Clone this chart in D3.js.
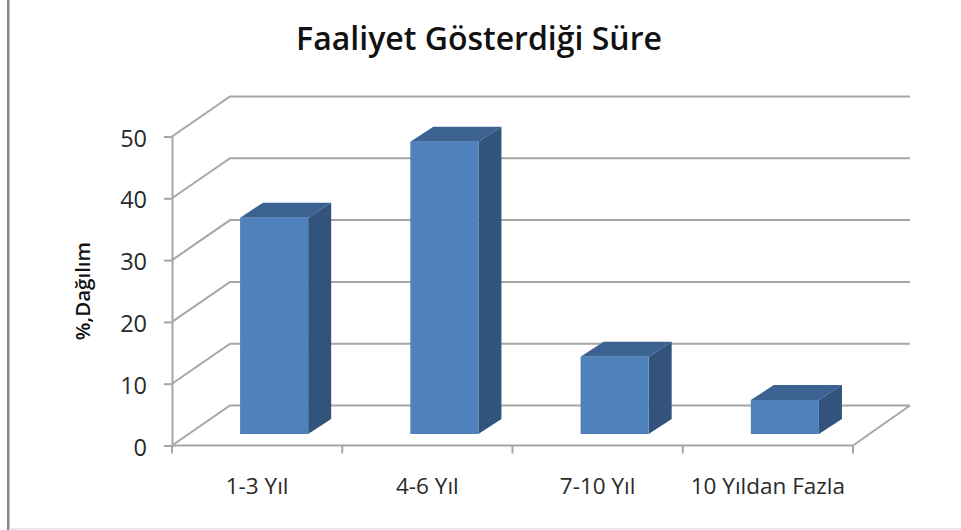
<!DOCTYPE html>
<html><head><meta charset="utf-8">
<script src="https://cdnjs.cloudflare.com/ajax/libs/d3/7.8.5/d3.min.js"></script>
<style>html,body{margin:0;padding:0;background:#fff}svg{display:block}text{font-family:"Open Sans",sans-serif;fill:#2a2a2a}</style>
</head><body><svg id="c" width="961" height="530"></svg>
<script>
const categories = ["1-3 Yıl","4-6 Yıl","7-10 Yıl","10 Yıldan Fazla"];
const values = [35, 47.3, 12.5, 5.5];
const yTicks = [0,10,20,30,40,50];
const titleText = "Faaliyet Gösterdiği Süre";
const yTitle = "%,Dağılım";

const svg = d3.select("#c");
const x = d3.scaleBand().domain(categories).range([172,853]).paddingInner(0.6).paddingOuter(0.3);
const y = d3.scaleLinear().domain([0,50]).range([445.5,136.5]);
const wallDx = 58, wallDy = -40;
const barDx = 23, barDy = -15, insetX = 17, insetY = -11.5;
const grid = "#a6a6a6";

svg.append("rect").attr("x",7).attr("y",0).attr("width",2.5).attr("height",530).attr("fill","#868686");
svg.append("rect").attr("x",9).attr("y",528).attr("width",952).attr("height",1.5).attr("fill","#e4e4e4");

const L = x.range()[0], R = x.range()[1];
const gridG = svg.append("g").attr("fill","none").attr("stroke",grid).attr("stroke-width",2);
gridG.selectAll("path").data(yTicks).join("path")
  .attr("d", d => `M${L},${y(d)}L${L+wallDx},${y(d)+wallDy}L${R+wallDx-1},${y(d)+wallDy}`);
gridG.append("path").attr("d",`M${R},${y(0)}L${R+wallDx-1},${y(0)+wallDy}`);

const yAxis = d3.axisLeft(y).tickValues(yTicks).tickSize(8).tickPadding(17).tickFormat(d3.format("d"));
const ya = svg.append("g").attr("transform",`translate(${L},0)`).call(yAxis);
ya.select(".domain").attr("stroke",grid).attr("stroke-width",2);
ya.selectAll("line").attr("stroke",grid).attr("stroke-width",2);
ya.selectAll("text").attr("font-size",23.5).style("fill","#2a2a2a").attr("dy","0.32em").attr("transform","translate(0,2)");

const bandStep = x.step();
const xBase = svg.append("g");
xBase.append("line").attr("x1",L).attr("x2",R).attr("y1",y(0)).attr("y2",y(0)).attr("stroke",grid).attr("stroke-width",2);
xBase.selectAll(".t").data(d3.range(categories.length+1)).join("line").attr("class","t")
  .attr("x1",i=>L+i*bandStep).attr("x2",i=>L+i*bandStep).attr("y1",y(0)).attr("y2",y(0)+8)
  .attr("stroke",grid).attr("stroke-width",2);
xBase.selectAll("text").data(categories).join("text")
  .attr("x",d=>x(d)+x.bandwidth()/2).attr("y",494)
  .attr("text-anchor","middle").attr("font-size",22.5).text(d=>d);

const bars = svg.append("g").selectAll("g").data(categories.map((c,i)=>({c,v:values[i]}))).join("g");
const bx = d => x(d.c)+insetX, bw = x.bandwidth();
const by0 = y(0)+insetY;
const barTop = d => y(d.v)+insetY;
bars.append("path").attr("fill","#3c6291")
  .attr("d",d=>`M${bx(d)},${barTop(d)}l${barDx},${barDy}h${bw}l${-barDx},${-barDy}Z`);
bars.append("path").attr("fill","#32537b")
  .attr("d",d=>`M${bx(d)+bw},${barTop(d)}l${barDx},${barDy}V${by0+barDy}l${-barDx},${-barDy}Z`);
bars.append("rect").attr("fill","#4f81bd")
  .attr("x",bx).attr("y",barTop).attr("width",bw).attr("height",d=>by0-barTop(d));

svg.append("text").attr("x",479).attr("y",50).attr("text-anchor","middle")
  .attr("font-size",32).attr("font-weight",600).style("fill","#111").text(titleText);
svg.append("text").attr("transform","translate(89.5,291) rotate(-90)").attr("text-anchor","middle")
  .attr("font-size",20.5).attr("font-weight",600).style("fill","#111").text(yTitle);
</script></body></html>
